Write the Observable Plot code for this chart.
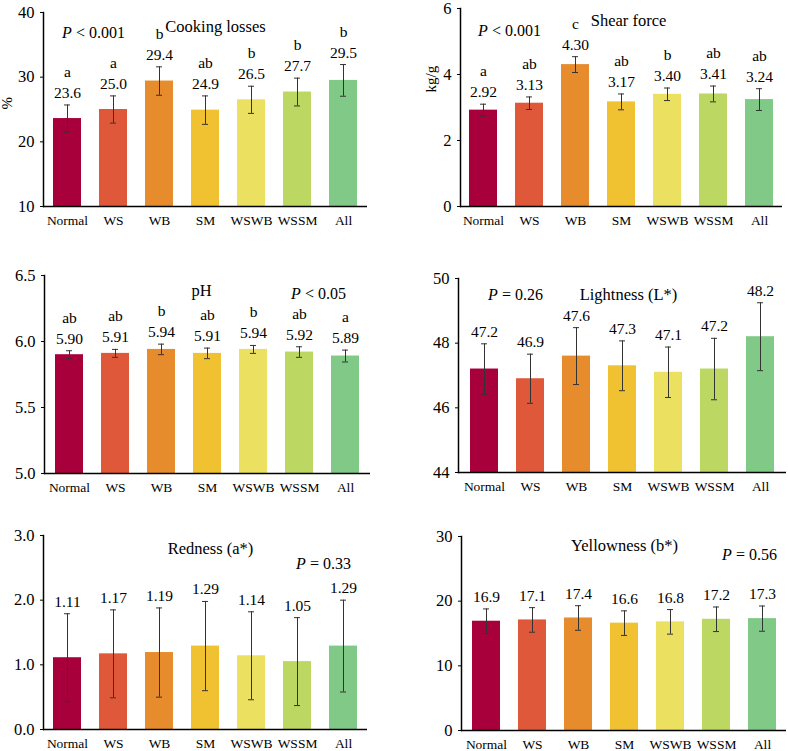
<!DOCTYPE html>
<html>
<head>
<meta charset="utf-8">
<script src="https://cdn.jsdelivr.net/npm/d3@7"></script>
<script src="https://cdn.jsdelivr.net/npm/@observablehq/plot@0.6"></script>
<style>
  body { margin: 0; background: white; }
  #chart { position: relative; width: 788px; height: 751px; overflow: hidden; background: white; }
  #chart svg { position: absolute; }
</style>
</head>
<body>
<div id="chart"></div>
<script>
// ---- data ----
const categories = ["Normal", "WS", "WB", "SM", "WSWB", "WSSM", "All"];
const barColors = ["#a8003a", "#e0583a", "#e68c2d", "#f0c232", "#ece060", "#bdd763", "#80c987"];

const cookingMean = [23.6, 25.0, 29.4, 24.9, 26.5, 27.7, 29.5];
const cookingSD = [2.1, 2.1, 2.2, 2.2, 2.1, 2.15, 2.45];
const cookingLetters = ["a", "a", "b", "ab", "b", "b", "b"];
const cookingTicks = [10, 20, 30, 40];

const shearMean = [2.92, 3.13, 4.30, 3.17, 3.40, 3.41, 3.24];
const shearSD = [0.18, 0.19, 0.24, 0.24, 0.19, 0.24, 0.33];
const shearLetters = ["a", "ab", "c", "ab", "b", "ab", "ab"];
const shearTicks = [0, 2, 4, 6];

const phMean = [5.90, 5.91, 5.94, 5.91, 5.94, 5.92, 5.89];
const phSD = [0.03, 0.03, 0.04, 0.04, 0.03, 0.04, 0.045];
const phLetters = ["ab", "ab", "b", "ab", "b", "ab", "a"];
const phTicks = [5.0, 5.5, 6.0, 6.5];

const lightMean = [47.2, 46.9, 47.6, 47.3, 47.1, 47.2, 48.2];
const lightSD = [0.78, 0.76, 0.88, 0.77, 0.78, 0.95, 1.05];
const lightTicks = [44, 46, 48, 50];

const redMean = [1.11, 1.17, 1.19, 1.29, 1.14, 1.05, 1.29];
const redSD = [0.68, 0.68, 0.69, 0.69, 0.68, 0.68, 0.71];
const redTicks = [0.0, 1.0, 2.0, 3.0];

const yellowMean = [16.9, 17.1, 17.4, 16.6, 16.8, 17.2, 17.3];
const yellowSD = [1.9, 1.9, 1.9, 1.9, 1.9, 1.9, 1.95];
const yellowTicks = [0, 10, 20, 30];

const titles = ["Cooking losses", "Shear force", "pH", "Lightness (L*)", "Redness (a*)", "Yellowness (b*)"];
const pLabels = ["P < 0.001", "P < 0.001", "P < 0.05", "P = 0.26", "P = 0.33", "P = 0.56"];
const yLabels = ["%", "kg/g", "", "", "", ""];

// ---- panels ----
const panels = [
  {mean: cookingMean, sd: cookingSD, letters: cookingLetters, ticks: cookingTicks, fmt: ".1f", tfmt: "d",
   left: 0, top: 0, w: 394, h: 250, m: [12, 27, 44, 43], title: [172, 8], p: [50, 14], yl: [-36, 0]},
  {mean: shearMean, sd: shearSD, letters: shearLetters, ticks: shearTicks, fmt: ".2f", tfmt: "d",
   left: 394, top: 0, w: 394, h: 250, m: [8, 6, 44, 66], title: [168, 6], p: [49, 16], yl: [-29, -15]},
  {mean: phMean, sd: phSD, letters: phLetters, ticks: phTicks, fmt: ".2f", tfmt: ".1f",
   left: 0, top: 250, w: 394, h: 250, m: [25, 24, 27, 44], title: [157, 9], p: [274, 12], yl: [0, 0]},
  {mean: lightMean, sd: lightSD, letters: null, ticks: lightTicks, fmt: ".1f", tfmt: "d",
   left: 394, top: 250, w: 394, h: 250, m: [28, 2, 28, 64], title: [170, 10], p: [57, 10], yl: [0, 0]},
  {mean: redMean, sd: redSD, letters: null, ticks: redTicks, fmt: ".2f", tfmt: ".1f",
   left: 0, top: 500, w: 394, h: 251, m: [35, 27, 22, 43], title: [167, 7], p: [280, 22], yl: [0, 0]},
  {mean: yellowMean, sd: yellowSD, letters: null, ticks: yellowTicks, fmt: ".1f", tfmt: "d",
   left: 394, top: 500, w: 394, h: 251, m: [36, 2, 21, 67], title: [163, 3], p: [288, 12], yl: [0, 0]}
];

const chart = document.getElementById("chart");

panels.forEach((P, i) => {
  const data = categories.map((c, j) => ({
    cat: c, mean: P.mean[j], sd: P.sd[j], letter: P.letters ? P.letters[j] : ""
  }));
  const yMin = P.ticks[0], yMax = P.ticks[P.ticks.length - 1];
  const f = d3.format(P.fmt);
  const marks = [
    Plot.barY(data, {x: "cat", y1: yMin, y2: "mean", fill: "cat"}),
    Plot.ruleX(data, {x: "cat", y1: d => d.mean - d.sd, y2: d => d.mean + d.sd, stroke: "#333", strokeWidth: 1}),
    Plot.tickY(data, {x: "cat", y: d => d.mean + d.sd, stroke: "#333", strokeWidth: 1, insetLeft: 11, insetRight: 11}),
    Plot.tickY(data, {x: "cat", y: d => d.mean - d.sd, stroke: "#333", strokeWidth: 1, insetLeft: 11, insetRight: 11}),
    Plot.text(data, {x: "cat", y: d => d.mean + d.sd, text: d => f(d.mean), dy: -12, fontSize: 15.5, fill: "black"}),
    Plot.axisX({tickSize: 0, tickPadding: 9, fontSize: 13.5, label: null}),
    Plot.axisY({ticks: P.ticks, tickSize: 3, tickPadding: 6, tickFormat: d3.format(P.tfmt), fontSize: 16.5, label: null}),
    Plot.ruleY([yMin], {stroke: "black", strokeWidth: 1.5}),
    Plot.frame({anchor: "left", stroke: "black", strokeWidth: 1.5}),
    Plot.text([titles[i]], {frameAnchor: "top-left", dx: P.title[0], dy: P.title[1], fontSize: 16.5, textAnchor: "middle", fill: "black"}),
    Plot.text([pLabels[i]], {frameAnchor: "top-left", dx: P.p[0], dy: P.p[1], fontSize: 16, textAnchor: "middle", fill: "black"})
  ];
  if (P.letters) {
    marks.push(Plot.text(data, {x: "cat", y: d => d.mean + d.sd, text: "letter", dy: -33, fontSize: 15.5, fill: "black"}));
  }
  if (yLabels[i]) {
    marks.push(Plot.text([yLabels[i]], {frameAnchor: "left", dx: P.yl[0], dy: P.yl[1], rotate: -90, fontSize: 15, fill: "black"}));
  }
  const svg = Plot.plot({
    width: P.w,
    height: P.h,
    marginTop: P.m[0], marginRight: P.m[1], marginBottom: P.m[2], marginLeft: P.m[3],
    style: {fontFamily: "'Liberation Serif', 'DejaVu Serif', serif", fontSize: "15px", color: "black", background: "white", overflow: "visible"},
    x: {domain: categories, paddingInner: 0.4, paddingOuter: 0.2, label: null},
    y: {domain: [yMin, yMax], label: null},
    color: {domain: categories, range: barColors},
    marks
  });
  svg.style.left = P.left + "px";
  svg.style.top = P.top + "px";
  // italic P
  svg.querySelectorAll("text").forEach(t => {
    const s = t.textContent;
    if (/^P [<=]/.test(s)) {
      t.textContent = "";
      const ns = "http://www.w3.org/2000/svg";
      const a = document.createElementNS(ns, "tspan");
      a.setAttribute("font-style", "italic");
      a.textContent = "P";
      const b = document.createElementNS(ns, "tspan");
      b.textContent = s.slice(1);
      t.appendChild(a); t.appendChild(b);
    }
  });
  chart.appendChild(svg);
});
</script>
</body>
</html>
